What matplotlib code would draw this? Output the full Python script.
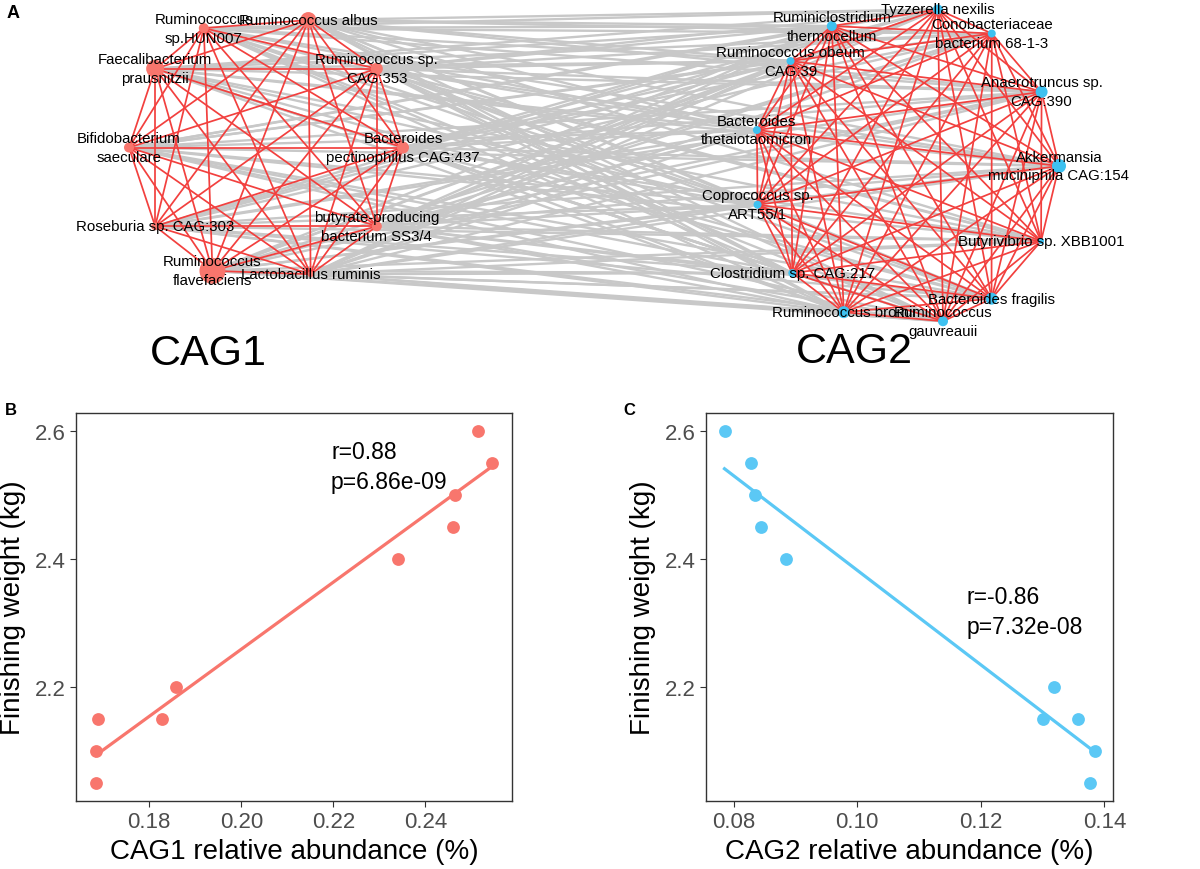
import numpy as np
import matplotlib.pyplot as plt
from matplotlib.collections import LineCollection

plt.rcParams['font.family'] = ['Liberation Sans', 'DejaVu Sans']

# ---- network data (panel A) ----
cag1_names = ["Bacteroides\npectinophilus CAG:437", "Ruminococcus sp.\nCAG:353",
              "Ruminococcus albus", "Ruminococcus\nsp.HUN007",
              "Faecalibacterium\nprausnitzii", "Bifidobacterium\nsaeculare",
              "Roseburia sp. CAG:303", "Ruminococcus\nflavefaciens",
              "Lactobacillus ruminis", "butyrate-producing\nbacterium SS3/4"]
cag1_angle = [0, 36, 72, 117, 144, 180, 216, 247, 289, 324]   # circular layout, degrees
cag1_size = [6, 6, 8, 5, 9, 5, 4, 13, 3, 5]

cag2_names = ["Akkermansia\nmuciniphila CAG:154", "Anaerotruncus sp.\nCAG:390",
              "Conobacteriaceae\nbacterium 68-1-3", "Tyzzerella nexilis",
              "Ruminiclostridium\nthermocellum", "Ruminococcus obeum\nCAG:39",
              "Bacteroides\nthetaiotaomicron", "Coprococcus sp.\nART55/1",
              "Clostridium sp. CAG:217", "Ruminococcus bromii",
              "Ruminococcus\ngauvreauii", "Bacteroides fragilis",
              "Butyrivibrio sp. XBB1001"]
cag2_angle = [0, 27.6, 55.9, 78, 119, 139, 167, 194, 222, 246, 284, 304, 332]
cag2_size = [7, 6, 4, 5, 5, 4, 4, 4, 4, 6, 5, 6, 3]

# ---- scatter data (panels B, C) ----
cag1_abund = [0.1684, 0.1684, 0.1689, 0.1828, 0.1859, 0.2341, 0.2459, 0.2465, 0.2514, 0.2545]
cag1_weight = [2.05, 2.10, 2.15, 2.15, 2.20, 2.40, 2.45, 2.50, 2.60, 2.55]
cag2_abund = [0.0785, 0.0828, 0.0834, 0.0844, 0.0885, 0.1318, 0.1300, 0.1358, 0.1384, 0.1376]
cag2_weight = [2.60, 2.55, 2.50, 2.45, 2.40, 2.20, 2.15, 2.15, 2.10, 2.05]

RED = "#F8766D"
BLUE = "#5BC8F5"
EDGE_RED = "#F2403E"
EDGE_GREY = "#C8C8C8"


def circle_layout(angles, cx, cy, rx, ry):
    a = np.deg2rad(np.array(angles))
    return np.column_stack([cx + rx * np.cos(a), cy - ry * np.sin(a)])


fig = plt.figure(figsize=(12, 8.7), dpi=100)

# panel A, axes in pixel units of the top strip
ax = fig.add_axes([0, 1 - 390 / 870, 1, 390 / 870])
ax.set_xlim(0, 1200)
ax.set_ylim(390, 0)
ax.axis("off")

p1 = circle_layout(cag1_angle, 266, 148.5, 137, 134)
p2 = circle_layout(cag2_angle, 906, 167, 153, 160)

between = [[a, b] for a in p1 for b in p2]
within = [[p[i], p[j]] for p in (p1, p2) for i in range(len(p)) for j in range(i + 1, len(p))]
ax.add_collection(LineCollection(between, colors=EDGE_GREY, linewidths=1.7, zorder=1))
ax.add_collection(LineCollection(within, colors=EDGE_RED, linewidths=1.25, zorder=2))

s1 = (2 * np.array(cag1_size) * 0.72) ** 2
s2 = (2 * np.array(cag2_size) * 0.72) ** 2
ax.scatter(p1[:, 0], p1[:, 1], s=s1, color=RED, linewidths=0, zorder=3)
ax.scatter(p2[:, 0], p2[:, 1], s=s2, color="#3EC1F0", linewidths=0, zorder=3)

for names, pos in ((cag1_names, p1), (cag2_names, p2)):
    for name, (x, y) in zip(names, pos):
        ax.text(x, y, name, ha="center", va="center", fontsize=10.8,
                linespacing=1.45, zorder=4)

ax.text(208, 354, "CAG1", ha="center", va="center", fontsize=31)
ax.text(854, 352, "CAG2", ha="center", va="center", fontsize=31)

fig.text(13 / 1200, 1 - 13 / 870, "A", fontsize=13, fontweight="bold", ha="center", va="center")
fig.text(11 / 1200, 1 - 411 / 870, "B", fontsize=12, fontweight="bold", ha="center", va="center")
fig.text(629 / 1200, 1 - 411 / 870, "C", fontsize=12, fontweight="bold", ha="center", va="center")


def scatter_panel(rect, x, y, color, xlabel, txt, txt_xy, xticks):
    a = fig.add_axes(rect)
    x = np.array(x)
    y = np.array(y)
    a.scatter(x, y, s=85, color=color, linewidths=0, zorder=3)
    k, b = np.polyfit(x, y, 1)
    xs = np.array([x.min(), x.max()])
    a.plot(xs, k * xs + b, color=color, lw=2.3, zorder=2)
    a.text(txt_xy[0], txt_xy[1], txt, fontsize=16.5, ha="left", va="center", linespacing=1.35)
    dx = (x.max() - x.min()) * 0.05
    dy = (y.max() - y.min()) * 0.05
    a.set_xlim(x.min() - dx, x.max() + dx)
    a.set_ylim(y.min() - dy, y.max() + dy)
    a.set_xticks(xticks)
    a.set_xticklabels(["%.2f" % t for t in xticks])
    a.set_yticks([2.2, 2.4, 2.6])
    a.set_yticklabels(["2.2", "2.4", "2.6"])
    for sp in a.spines.values():
        sp.set_color("#333333")
        sp.set_linewidth(1.0)
    a.tick_params(labelsize=16, labelcolor="#4D4D4D", color="#333333", length=4, width=0.8)
    a.set_xlabel(xlabel, fontsize=20)
    a.set_ylabel("Finishing weight (kg)", fontsize=20, labelpad=6)
    return a


scatter_panel([76 / 1200, 68 / 870, 436 / 1200, 388 / 870], cag1_abund, cag1_weight, RED,
              "CAG1 relative abundance (%)", "r=0.88\np=6.86e-09", (0.2195, 2.544),
              [0.18, 0.20, 0.22, 0.24])
scatter_panel([706 / 1200, 68 / 870, 407 / 1200, 388 / 870], cag2_abund, cag2_weight, BLUE,
              "CAG2 relative abundance (%)", "r=-0.86\np=7.32e-08", (0.1177, 2.318),
              [0.08, 0.10, 0.12, 0.14])

fig.savefig("out.png", dpi=100)
